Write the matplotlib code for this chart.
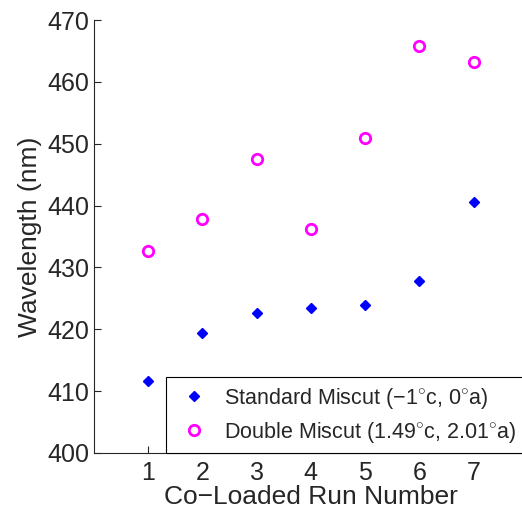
import numpy as np
import matplotlib.pyplot as plt

plt.rcParams['font.family'] = ['Liberation Sans', 'DejaVu Sans']
plt.rcParams['mathtext.fontset'] = 'custom'
plt.rcParams['mathtext.rm'] = 'Liberation Sans'

runs = [1, 2, 3, 4, 5, 6, 7]
standard = [411.6, 419.4, 422.7, 423.5, 423.9, 427.8, 440.6]
double = [432.6, 437.9, 447.6, 436.2, 451.0, 465.8, 463.2]

fig = plt.figure(figsize=(5.22, 5.13), dpi=100)
ax = fig.add_axes([0.18, 0.117, 0.831, 0.844])

ax.plot(runs, standard, linestyle='none', marker='D', color='blue',
        markersize=5.5, label='Standard Miscut (\u22121$^{\\circ}$c, 0$^{\\circ}$a)')
ax.plot(runs, double, linestyle='none', marker='o', markerfacecolor='none',
        markeredgecolor='magenta', markeredgewidth=2, markersize=7.5,
        label='Double Miscut (1.49$^{\\circ}$c, 2.01$^{\\circ}$a)')

ax.set_xlim(0, 8)
ax.set_ylim(400, 470)
ax.set_xticks(runs)
ax.set_yticks(np.arange(400, 471, 10))
ax.tick_params(direction='in', labelsize=18, length=5, colors='#262626')
ax.tick_params(axis='x', pad=6)
for s in ['left', 'bottom']:
    ax.spines[s].set_color('#262626')
ax.spines['top'].set_visible(False)
ax.spines['right'].set_visible(False)
ax.set_xlabel('Co\u2212Loaded Run Number', fontsize=19, labelpad=0, color='#262626')
ax.set_ylabel('Wavelength (nm)', fontsize=19, labelpad=4, color='#262626')

leg = ax.legend(loc='upper left', bbox_to_anchor=(0.166, 0.175), borderaxespad=0,
                fontsize=15.5, fancybox=False, edgecolor='black', framealpha=1,
                handletextpad=0.45, borderpad=0.4, labelspacing=0.42, handlelength=1.85)
leg.get_frame().set_linewidth(0.8)
for t in leg.get_texts():
    t.set_color('#262626')

fig.savefig('out.png', dpi=100)
